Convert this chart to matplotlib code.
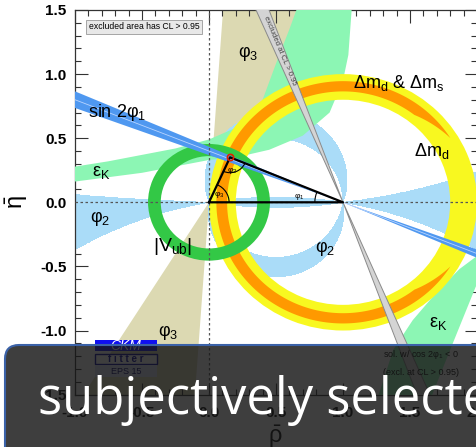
import numpy as np
import matplotlib.pyplot as plt
from matplotlib.patches import Wedge, Annulus, Polygon, Arc, Rectangle, FancyBboxPatch
from matplotlib.ticker import MultipleLocator, FormatStrFormatter

plt.rcParams['font.family'] = ['Liberation Sans', 'DejaVu Sans']
plt.rcParams['mathtext.fontset'] = 'custom'
plt.rcParams['mathtext.rm'] = 'Liberation Sans'
plt.rcParams['mathtext.it'] = 'Liberation Sans'
plt.rcParams['mathtext.bf'] = 'Liberation Sans:bold'
plt.rcParams['axes.unicode_minus'] = False

# apex of the unitarity triangle
rho0, eta0 = 0.157, 0.351

# angle constraints (degrees)
phi1_deg = [20.2, 23.4]        # sin 2phi1, seen from (1,0)
phi1_alt_deg = [66.6, 69.8]    # other sin 2phi1 solution (cos 2phi1 < 0)
phi3_deg = [58.0, 86.0]        # seen from (0,0)
# phi2: signed angle under which the base (0,0)-(1,0) is seen
phi2_small_left = [-9.8, 1.7]
phi2_small_right = [-9.8, 6.6]
phi2_flat = 171.0
phi2_up = [71.0, 90.0]
phi2_down = [-98.6, -81.5]

# rings (inner, outer radius)
vub_r = [0.36, 0.455]
dmd_r = [0.80, 1.0]
dms_r = [0.865, 0.945]
dms_deg = [32.0, 328.0]
dms_taper = 20.0

# eps_K band, upper branch
epsk_up_rho = [-1.05, -0.75, -0.5, -0.25, 0.0, 0.22, 0.40, 0.51, 0.60, 0.68]
epsk_up_eta = [0.27, 0.32, 0.37, 0.42, 0.49, 0.59, 0.80, 1.11, 1.35, 1.58]
epsk_lo_rho = [1.07, 1.04, 1.00, 0.90, 0.70, 0.45, 0.20, 0.0, -0.5, -1.05]
epsk_lo_eta = [1.58, 1.15, 0.95, 0.70, 0.52, 0.41, 0.35, 0.33, 0.23, 0.155]
# eps_K band, lower branch
epsk2_left_rho = [1.25, 1.27, 1.375, 1.52, 1.70, 1.87, 2.05]
epsk2_left_eta = [-1.56, -1.49, -1.15, -0.92, -0.70, -0.52, -0.38]
epsk2_right_rho = [2.05, 1.99, 1.80, 1.67, 1.645]
epsk2_right_eta = [-0.55, -0.66, -1.15, -1.49, -1.56]

tan = '#dcd9b2'
lblue = '#aadcf8'
lgreen = '#8cf6b4'
yellow = '#f8f820'
orange = '#ff9900'
dgreen = '#33c846'
blue = '#4f98f0'
gray = '#d4d4d4'

fig = plt.figure(figsize=(4.76, 4.47), dpi=100)
ax = fig.add_axes([75/476, 52.4/447, 402/476, 384.6/447])
ax.set_xlim(-1, 2)
ax.set_ylim(-1.5, 1.5)

# phi3 wedge and its mirror through the origin
for t0 in (0, 180):
    ax.add_patch(Wedge((0, 0), 4, phi3_deg[0] + t0, phi3_deg[1] + t0,
                       fc=tan, ec='none', zorder=1))

# phi2 regions from the angle subtended by the base
rr, ee = np.meshgrid(np.linspace(-1.05, 2.05, 1400), np.linspace(-1.55, 1.55, 1400))
ang = np.degrees(np.arctan2(ee, rr * rr - rr + ee * ee))
def between(lo, hi):
    return (ang >= lo) & (ang <= hi)
mask = (((rr < 0.5) & between(*phi2_small_left)) | ((rr >= 0.5) & between(*phi2_small_right))
        | (np.abs(ang) >= phi2_flat) | between(*phi2_up) | between(*phi2_down))
ax.contourf(rr, ee, mask.astype(float), levels=[0.5, 1.5], colors=[lblue], zorder=2)

# eps_K
up = np.column_stack([epsk_up_rho, epsk_up_eta])
lo = np.column_stack([epsk_lo_rho, epsk_lo_eta])
ax.add_patch(Polygon(np.vstack([up, lo]), closed=True, fc=lgreen, ec='none', zorder=3))
left = np.column_stack([epsk2_left_rho, epsk2_left_eta])
right = np.column_stack([epsk2_right_rho, epsk2_right_eta])
ax.add_patch(Polygon(np.vstack([left, right]), closed=True, fc=lgreen, ec='none', zorder=3))

# dm_d ring and the dm_d & dm_s arc
ax.add_patch(Annulus((1, 0), dmd_r[1], dmd_r[1] - dmd_r[0], fc=yellow, ec='none', zorder=4))
th = np.linspace(dms_deg[0], dms_deg[1], 400)
taper = np.clip(np.minimum(th - dms_deg[0], dms_deg[1] - th) / dms_taper, 0, 1)
r_in = dms_r[1] - (dms_r[1] - dms_r[0]) * taper
t = np.radians(th)
outer = np.column_stack([1 + dms_r[1] * np.cos(t), dms_r[1] * np.sin(t)])
inner = np.column_stack([1 + r_in * np.cos(t), r_in * np.sin(t)])[::-1]
ax.add_patch(Polygon(np.vstack([outer, inner]), closed=True, fc=orange, ec='none', zorder=5))

# |Vub|
ax.add_patch(Annulus((0, 0), vub_r[1], vub_r[1] - vub_r[0], fc=dgreen, ec='none', zorder=6))

# sin 2phi1 and its excluded twin
for t0 in (180, 360):
    ax.add_patch(Wedge((1, 0), 4, t0 - phi1_deg[1], t0 - phi1_deg[0], fc=blue, ec='none', zorder=7))
    ax.add_patch(Wedge((1, 0), 4, t0 - phi1_alt_deg[1], t0 - phi1_alt_deg[0],
                       fc=gray, ec='#8a8a8a', lw=0.7, zorder=7.5))
b = np.radians(np.mean(phi1_deg))
ax.plot([1 - 3 * np.cos(b), 1 + 3 * np.cos(b)], [3 * np.sin(b), -3 * np.sin(b)],
        color='#b8d4ff', lw=0.6, zorder=7.2)

ax.axhline(0, color='#555555', ls=(0, (2, 2)), lw=0.9, zorder=8)
ax.axvline(0, color='#555555', ls=(0, (2, 2)), lw=0.9, zorder=8)

# triangle with angle marks
ax.plot([0, 1, rho0, 0], [0, 0, eta0, 0], color='black', lw=1.6, zorder=9)
a_org = np.degrees(np.arctan2(eta0, rho0))
a_top1 = np.degrees(np.arctan2(-eta0, -rho0)) + 360
a_top2 = np.degrees(np.arctan2(-eta0, 1 - rho0)) + 360
a_one = np.degrees(np.arctan2(eta0, rho0 - 1))
ax.add_patch(Arc((0, 0), 0.3, 0.3, theta1=0, theta2=a_org, color='black', lw=0.8, zorder=9))
ax.add_patch(Arc((rho0, eta0), 0.24, 0.24, theta1=a_top1, theta2=a_top2, color='black', lw=0.8, zorder=9))
ax.add_patch(Arc((1, 0), 0.42, 0.42, theta1=a_one, theta2=180, color='black', lw=0.8, zorder=9))
ax.plot(rho0, eta0, 'o', ms=4.5, mfc='none', mec='#e02000', mew=1.2, zorder=10)
ax.text(0.075, 0.06, r'$\varphi_3$', fontsize=6, ha='center', va='center', zorder=10)
ax.text(0.175, 0.245, r'$\varphi_2$', fontsize=6, ha='center', va='center', zorder=10)
ax.text(0.67, 0.045, r'$\varphi_1$', fontsize=6, ha='center', va='center', zorder=10)

# constraint labels
lab = dict(ha='center', va='center', zorder=10, fontsize=13)
ax.text(-0.903, 0.697, r'$\mathrm{sin\ 2}\varphi_1$', **{**lab, 'ha': 'left'})
ax.text(-0.808, 0.229, r'$\varepsilon_K$', **lab)
ax.text(-0.813, -0.127, r'$\varphi_2$', **lab)
ax.text(-0.269, -0.343, r'$|V_{ub}|$', **{**lab, 'fontsize': 14})
ax.text(-0.304, -1.019, r'$\varphi_3$', **lab)
ax.text(0.295, 1.16, r'$\varphi_3$', **lab)
ax.text(1.414, 0.931, r'$\Delta m_d$ & $\Delta m_s$', **lab)
ax.text(1.663, 0.398, r'$\Delta m_d$', **lab)
ax.text(0.866, -0.361, r'$\varphi_2$', **lab)
ax.text(1.713, -0.946, r'$\varepsilon_K$', **lab)
ax.text(0.53, 1.18, 'excluded at CL > 0.95', fontsize=5.5, color='#444444', rotation=-67.3,
        rotation_mode='anchor', ha='center', va='center', zorder=10)
ax.text(1.30, -1.188, r'sol. w/ cos 2$\varphi_1$ < 0', fontsize=6.5, ha='left', va='center', zorder=10)
ax.text(1.30, -1.328, '(excl. at CL > 0.95)', fontsize=6.5, ha='left', va='center', zorder=10)
ax.text(0.035, 0.956, 'excluded area has CL > 0.95', transform=ax.transAxes, fontsize=6.2,
        ha='left', va='center', zorder=10,
        bbox=dict(boxstyle='square,pad=0.3', fc='#e8e8e8', ec='#999999', lw=0.6))

# axes styling
for axis in (ax.xaxis, ax.yaxis):
    axis.set_major_locator(MultipleLocator(0.5))
    axis.set_minor_locator(MultipleLocator(0.1))
    axis.set_major_formatter(FormatStrFormatter('%.1f'))
ax.tick_params(which='both', direction='in', top=True, right=True, width=0.8,
               color='#333333', labelsize=11)
ax.tick_params(which='major', length=9)
ax.tick_params(which='minor', length=4.5)
ax.tick_params(axis='y', pad=6)
ax.tick_params(axis='x', pad=8)
plt.setp(ax.get_xticklabels() + ax.get_yticklabels(), fontweight='bold')
for s in ax.spines.values():
    s.set_linewidth(0.9)
    s.set_color('#333333')
ax.set_ylabel(r'$\bar{\eta}$', fontsize=17)
ax.yaxis.set_label_coords(-0.112, 0.5)
ax.set_xlabel(r'$\bar{\rho}$', fontsize=17)
ax.xaxis.set_label_coords(0.4975, -0.075)

# CKMfitter logo
inch = fig.dpi_scale_trans
fig.add_artist(Rectangle((0.95, 0.96), 0.62, 0.11, transform=inch, fc='#1010f0', ec='none'))
fig.text(1.26, 1.015, 'CKM', transform=inch, fontsize=10, style='italic', color='white',
         ha='center', va='center')
fig.add_artist(Rectangle((0.95, 0.83), 0.62, 0.10, transform=inch, fc='white', ec='#000099', lw=1))
fig.text(1.26, 0.88, 'f i t t e r', transform=inch, fontsize=7, color='#000099',
         fontweight='bold', ha='center', va='center')
fig.add_artist(Rectangle((0.95, 0.70), 0.62, 0.12, transform=inch, fc='#dde0f5', ec='none'))
fig.text(1.26, 0.76, 'EPS 15', transform=inch, fontsize=6.5, color='#000066',
         ha='center', va='center')

# caption banner
fig.add_artist(FancyBboxPatch((0.05, -0.4), 5.0, 1.42, transform=inch,
                              boxstyle='round,pad=0,rounding_size=0.14',
                              fc=(0.09, 0.09, 0.09, 0.83), ec='#3b62a8', lw=1.5, zorder=20))
fig.text(0.38, 0.335, 'subjectively selected', transform=inch, fontsize=36.5,
         family='Open Sans', color='white', ha='left', va='baseline', zorder=21)

fig.savefig('out.png', dpi=100)
